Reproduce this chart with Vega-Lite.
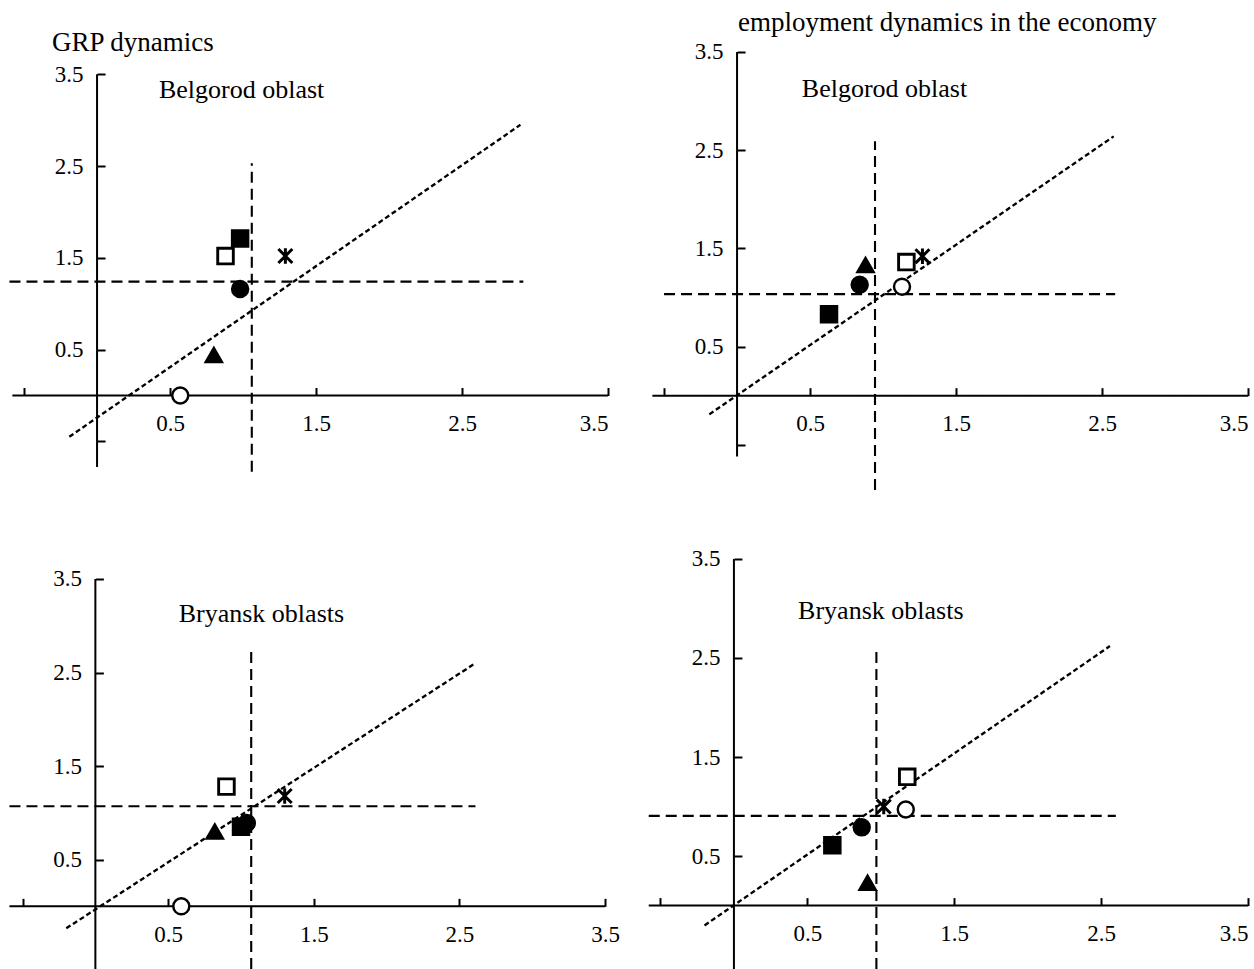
{
  "$schema": "https://vega.github.io/schema/vega-lite/v6.json",
  "autosize": {"type": "none"},
  "padding": {"left": 8, "top": 45, "right": 1246, "bottom": 924},
  "background": "white",
  "datasets": {
    "points": [
      {"panel": "p1", "series": "A", "x": 0.57, "y": 0.0},
      {"panel": "p1", "series": "B", "x": 0.98, "y": 1.16},
      {"panel": "p1", "series": "C", "x": 0.80, "y": 0.44},
      {"panel": "p1", "series": "D", "x": 0.98, "y": 1.71},
      {"panel": "p1", "series": "E", "x": 0.88, "y": 1.52},
      {"panel": "p1", "series": "F", "x": 1.29, "y": 1.52},
      {"panel": "p2", "series": "A", "x": 1.13, "y": 1.11},
      {"panel": "p2", "series": "B", "x": 0.84, "y": 1.13},
      {"panel": "p2", "series": "C", "x": 0.88, "y": 1.33},
      {"panel": "p2", "series": "D", "x": 0.63, "y": 0.83},
      {"panel": "p2", "series": "E", "x": 1.16, "y": 1.36},
      {"panel": "p2", "series": "F", "x": 1.27, "y": 1.42},
      {"panel": "p3", "series": "A", "x": 0.59, "y": 0.0},
      {"panel": "p3", "series": "B", "x": 1.04, "y": 0.89},
      {"panel": "p3", "series": "C", "x": 0.82, "y": 0.80},
      {"panel": "p3", "series": "D", "x": 1.0, "y": 0.85},
      {"panel": "p3", "series": "E", "x": 0.90, "y": 1.28},
      {"panel": "p3", "series": "F", "x": 1.30, "y": 1.18},
      {"panel": "p4", "series": "A", "x": 1.17, "y": 0.97},
      {"panel": "p4", "series": "B", "x": 0.87, "y": 0.79},
      {"panel": "p4", "series": "C", "x": 0.91, "y": 0.23},
      {"panel": "p4", "series": "D", "x": 0.67, "y": 0.61},
      {"panel": "p4", "series": "E", "x": 1.18, "y": 1.30},
      {"panel": "p4", "series": "F", "x": 1.02, "y": 1.0}
    ],
    "lines": [
      {"panel": "p1", "kind": "axis", "x": 0, "y": -0.78, "x2": 0, "y2": 3.5},
      {"panel": "p1", "kind": "axis", "x": -0.58, "y": 0, "x2": 3.5, "y2": 0},
      {"panel": "p1", "kind": "vline", "x": 1.06, "y": -0.83, "x2": 1.06, "y2": 2.53},
      {"panel": "p1", "kind": "hline", "x": -0.6, "y": 1.24, "x2": 2.92, "y2": 1.24},
      {"panel": "p1", "kind": "trend", "x": -0.19, "y": -0.45, "x2": 2.9, "y2": 2.95},
      {"panel": "p2", "kind": "axis", "x": 0, "y": -0.62, "x2": 0, "y2": 3.5},
      {"panel": "p2", "kind": "axis", "x": -0.58, "y": 0, "x2": 3.5, "y2": 0},
      {"panel": "p2", "kind": "vline", "x": 0.945, "y": -0.96, "x2": 0.945, "y2": 2.59},
      {"panel": "p2", "kind": "hline", "x": -0.5, "y": 1.035, "x2": 2.59, "y2": 1.035},
      {"panel": "p2", "kind": "trend", "x": -0.19, "y": -0.19, "x2": 2.58, "y2": 2.64},
      {"panel": "p3", "kind": "axis", "x": 0, "y": -0.67, "x2": 0, "y2": 3.5},
      {"panel": "p3", "kind": "axis", "x": -0.59, "y": 0, "x2": 3.5, "y2": 0},
      {"panel": "p3", "kind": "vline", "x": 1.07, "y": -0.67, "x2": 1.07, "y2": 2.72},
      {"panel": "p3", "kind": "hline", "x": -0.59, "y": 1.07, "x2": 2.61, "y2": 1.07},
      {"panel": "p3", "kind": "trend", "x": -0.2, "y": -0.235, "x2": 2.61, "y2": 2.6},
      {"panel": "p4", "kind": "axis", "x": 0, "y": -0.64, "x2": 0, "y2": 3.5},
      {"panel": "p4", "kind": "axis", "x": -0.58, "y": 0, "x2": 3.5, "y2": 0},
      {"panel": "p4", "kind": "vline", "x": 0.97, "y": -0.64, "x2": 0.97, "y2": 2.56},
      {"panel": "p4", "kind": "hline", "x": -0.58, "y": 0.905, "x2": 2.6, "y2": 0.905},
      {"panel": "p4", "kind": "trend", "x": -0.2, "y": -0.2, "x2": 2.56, "y2": 2.62}
    ],
    "labels": [
      {"panel": "p1", "label": "Belgorod oblast"},
      {"panel": "p2", "label": "Belgorod oblast"},
      {"panel": "p3", "label": "Bryansk oblasts"},
      {"panel": "p4", "label": "Bryansk oblasts"}
    ]
  },
  "bounds": "flush",
  "columns": 2,
  "spacing": {"row": 60, "column": 40},
  "concat": [
    {
      "width": 600, "height": 445,
      "title": {"text": "GRP dynamics", "anchor": "start", "frame": "group", "dx": 44, "dy": 33, "offset": 0, "baseline": "alphabetic"},
      "layer": [
        {"data": {"name": "lines"}, "transform": [{"filter": "datum.panel === 'p1'"}], "mark": {"type": "rule", "color": "black"},
         "encoding": {
           "x": {"field": "x", "type": "quantitative", "scale": {"domain": [-0.61, 3.5], "nice": false, "zero": false}, "axis": {"title": null, "format": ".1f", "values": [-0.5, 0.5, 1.5, 2.5, 3.5], "offset": -94.5, "labelExpr": "datum.value < 0 ? '' : datum.label"}},
           "y": {"field": "y", "type": "quantitative", "scale": {"domain": [-1.03, 3.82], "nice": false, "zero": false}, "axis": {"title": null, "format": ".1f", "values": [-0.5, 0.5, 1.5, 2.5, 3.5], "offset": -89.05, "labelExpr": "datum.value < 0 ? '' : datum.label"}},
           "x2": {"field": "x2"}, "y2": {"field": "y2"},
           "strokeDash": {"field": "kind", "type": "nominal", "scale": {"domain": ["axis", "vline", "hline", "trend"], "range": [[1, 0], [11, 6], [11, 6], [5, 3]]}, "legend": null},
           "strokeWidth": {"field": "kind", "type": "ordinal", "scale": {"domain": ["axis", "vline", "hline", "trend"], "range": [2, 3, 3, 3.3]}, "legend": null}}},
        {"data": {"name": "points"}, "transform": [{"filter": "datum.panel === 'p1'"}], "mark": {"type": "point", "filled": true, "stroke": "black", "opacity": 1},
         "encoding": {
           "x": {"field": "x", "type": "quantitative"},
           "y": {"field": "y", "type": "quantitative"},
           "shape": {"field": "series", "type": "nominal", "scale": {"domain": ["A", "B", "C", "D", "E", "F"], "range": ["circle", "circle", "triangle-up", "square", "square", "M0,-1L0,1M-0.9,-0.9L0.9,0.9M-0.9,0.9L0.9,-0.9"]}, "legend": null},
           "fill": {"field": "series", "type": "nominal", "scale": {"domain": ["A", "B", "C", "D", "E", "F"], "range": ["white", "black", "black", "black", "white", "white"]}, "legend": null},
           "strokeWidth": {"field": "series", "type": "ordinal", "scale": {"domain": ["A", "B", "C", "D", "E", "F"], "range": [2, 2, 2, 2, 2, 3.6]}, "legend": null},
           "size": {"field": "series", "type": "ordinal", "scale": {"domain": ["A", "B", "C", "D", "E", "F"], "range": [256, 240, 300, 240, 240, 340]}, "legend": null}}},
        {"data": {"name": "labels"}, "transform": [{"filter": "datum.panel === 'p1'"}], "mark": {"type": "text", "fontSize": 26, "baseline": "alphabetic", "align": "center", "color": "black"},
         "encoding": {"x": {"datum": 0.99, "type": "quantitative"}, "y": {"datum": 3.24, "type": "quantitative"}, "text": {"field": "label", "type": "nominal"}}}
      ]
    },
    {
      "width": 600, "height": 445,
      "title": {"text": "employment dynamics in the economy", "anchor": "start", "frame": "group", "dx": 90, "dy": 17, "offset": 0, "baseline": "alphabetic"},
      "layer": [
        {"data": {"name": "lines"}, "transform": [{"filter": "datum.panel === 'p2'"}], "mark": {"type": "rule", "color": "black"},
         "encoding": {
           "x": {"field": "x", "type": "quantitative", "scale": {"domain": [-0.61, 3.5], "nice": false, "zero": false}, "axis": {"title": null, "format": ".1f", "values": [-0.5, 0.5, 1.5, 2.5, 3.5], "offset": -94.3, "labelExpr": "datum.value < 0 ? '' : datum.label"}},
           "y": {"field": "y", "type": "quantitative", "scale": {"domain": [-0.96, 3.57], "nice": false, "zero": false}, "axis": {"title": null, "format": ".1f", "values": [-0.5, 0.5, 1.5, 2.5, 3.5], "offset": -89.05, "labelExpr": "datum.value < 0 ? '' : datum.label"}},
           "x2": {"field": "x2"}, "y2": {"field": "y2"},
           "strokeDash": {"field": "kind", "type": "nominal", "scale": {"domain": ["axis", "vline", "hline", "trend"], "range": [[1, 0], [11, 6], [11, 6], [5, 3]]}, "legend": null},
           "strokeWidth": {"field": "kind", "type": "ordinal", "scale": {"domain": ["axis", "vline", "hline", "trend"], "range": [2, 3, 3, 3.3]}, "legend": null}}},
        {"data": {"name": "points"}, "transform": [{"filter": "datum.panel === 'p2'"}], "mark": {"type": "point", "filled": true, "stroke": "black", "opacity": 1},
         "encoding": {
           "x": {"field": "x", "type": "quantitative"},
           "y": {"field": "y", "type": "quantitative"},
           "shape": {"field": "series", "type": "nominal", "scale": {"domain": ["A", "B", "C", "D", "E", "F"], "range": ["circle", "circle", "triangle-up", "square", "square", "M0,-1L0,1M-0.9,-0.9L0.9,0.9M-0.9,0.9L0.9,-0.9"]}, "legend": null},
           "fill": {"field": "series", "type": "nominal", "scale": {"domain": ["A", "B", "C", "D", "E", "F"], "range": ["white", "black", "black", "black", "white", "white"]}, "legend": null},
           "strokeWidth": {"field": "series", "type": "ordinal", "scale": {"domain": ["A", "B", "C", "D", "E", "F"], "range": [2, 2, 2, 2, 2, 3.6]}, "legend": null},
           "size": {"field": "series", "type": "ordinal", "scale": {"domain": ["A", "B", "C", "D", "E", "F"], "range": [256, 240, 300, 240, 240, 340]}, "legend": null}}},
        {"data": {"name": "labels"}, "transform": [{"filter": "datum.panel === 'p2'"}], "mark": {"type": "text", "fontSize": 26, "baseline": "alphabetic", "align": "center", "color": "black"},
         "encoding": {"x": {"datum": 1.01, "type": "quantitative"}, "y": {"datum": 3.04, "type": "quantitative"}, "text": {"field": "label", "type": "nominal"}}}
      ]
    },
    {
      "width": 600, "height": 419,
      "layer": [
        {"data": {"name": "lines"}, "transform": [{"filter": "datum.panel === 'p3'"}], "mark": {"type": "rule", "color": "black"},
         "encoding": {
           "x": {"field": "x", "type": "quantitative", "scale": {"domain": [-0.6, 3.52], "nice": false, "zero": false}, "axis": {"title": null, "format": ".1f", "values": [-0.5, 0.5, 1.5, 2.5, 3.5], "offset": -62.66, "labelExpr": "datum.value < 0 ? '' : datum.label"}},
           "y": {"field": "y", "type": "quantitative", "scale": {"domain": [-0.67, 3.81], "nice": false, "zero": false}, "axis": {"title": null, "format": ".1f", "values": [0.5, 1.5, 2.5, 3.5], "offset": -87.38}},
           "x2": {"field": "x2"}, "y2": {"field": "y2"},
           "strokeDash": {"field": "kind", "type": "nominal", "scale": {"domain": ["axis", "vline", "hline", "trend"], "range": [[1, 0], [11, 6], [11, 6], [5, 3]]}, "legend": null},
           "strokeWidth": {"field": "kind", "type": "ordinal", "scale": {"domain": ["axis", "vline", "hline", "trend"], "range": [2, 3, 3, 3.3]}, "legend": null}}},
        {"data": {"name": "points"}, "transform": [{"filter": "datum.panel === 'p3'"}], "mark": {"type": "point", "filled": true, "stroke": "black", "opacity": 1},
         "encoding": {
           "x": {"field": "x", "type": "quantitative"},
           "y": {"field": "y", "type": "quantitative"},
           "shape": {"field": "series", "type": "nominal", "scale": {"domain": ["A", "B", "C", "D", "E", "F"], "range": ["circle", "circle", "triangle-up", "square", "square", "M0,-1L0,1M-0.9,-0.9L0.9,0.9M-0.9,0.9L0.9,-0.9"]}, "legend": null},
           "fill": {"field": "series", "type": "nominal", "scale": {"domain": ["A", "B", "C", "D", "E", "F"], "range": ["white", "black", "black", "black", "white", "white"]}, "legend": null},
           "strokeWidth": {"field": "series", "type": "ordinal", "scale": {"domain": ["A", "B", "C", "D", "E", "F"], "range": [2, 2, 2, 2, 2, 3.6]}, "legend": null},
           "size": {"field": "series", "type": "ordinal", "scale": {"domain": ["A", "B", "C", "D", "E", "F"], "range": [256, 240, 300, 240, 240, 340]}, "legend": null}}},
        {"data": {"name": "labels"}, "transform": [{"filter": "datum.panel === 'p3'"}], "mark": {"type": "text", "fontSize": 26, "baseline": "alphabetic", "align": "center", "color": "black"},
         "encoding": {"x": {"datum": 1.14, "type": "quantitative"}, "y": {"datum": 3.04, "type": "quantitative"}, "text": {"field": "label", "type": "nominal"}}}
      ]
    },
    {
      "width": 600, "height": 419,
      "layer": [
        {"data": {"name": "lines"}, "transform": [{"filter": "datum.panel === 'p4'"}], "mark": {"type": "rule", "color": "black"},
         "encoding": {
           "x": {"field": "x", "type": "quantitative", "scale": {"domain": [-0.585, 3.5], "nice": false, "zero": false}, "axis": {"title": null, "format": ".1f", "values": [-0.5, 0.5, 1.5, 2.5, 3.5], "offset": -63.39, "labelExpr": "datum.value < 0 ? '' : datum.label"}},
           "y": {"field": "y", "type": "quantitative", "scale": {"domain": [-0.64, 3.59], "nice": false, "zero": false}, "axis": {"title": null, "format": ".1f", "values": [0.5, 1.5, 2.5, 3.5], "offset": -85.92}},
           "x2": {"field": "x2"}, "y2": {"field": "y2"},
           "strokeDash": {"field": "kind", "type": "nominal", "scale": {"domain": ["axis", "vline", "hline", "trend"], "range": [[1, 0], [11, 6], [11, 6], [5, 3]]}, "legend": null},
           "strokeWidth": {"field": "kind", "type": "ordinal", "scale": {"domain": ["axis", "vline", "hline", "trend"], "range": [2, 3, 3, 3.3]}, "legend": null}}},
        {"data": {"name": "points"}, "transform": [{"filter": "datum.panel === 'p4'"}], "mark": {"type": "point", "filled": true, "stroke": "black", "opacity": 1},
         "encoding": {
           "x": {"field": "x", "type": "quantitative"},
           "y": {"field": "y", "type": "quantitative"},
           "shape": {"field": "series", "type": "nominal", "scale": {"domain": ["A", "B", "C", "D", "E", "F"], "range": ["circle", "circle", "triangle-up", "square", "square", "M0,-1L0,1M-0.9,-0.9L0.9,0.9M-0.9,0.9L0.9,-0.9"]}, "legend": null},
           "fill": {"field": "series", "type": "nominal", "scale": {"domain": ["A", "B", "C", "D", "E", "F"], "range": ["white", "black", "black", "black", "white", "white"]}, "legend": null},
           "strokeWidth": {"field": "series", "type": "ordinal", "scale": {"domain": ["A", "B", "C", "D", "E", "F"], "range": [2, 2, 2, 2, 2, 3.6]}, "legend": null},
           "size": {"field": "series", "type": "ordinal", "scale": {"domain": ["A", "B", "C", "D", "E", "F"], "range": [256, 240, 300, 240, 240, 340]}, "legend": null}}},
        {"data": {"name": "labels"}, "transform": [{"filter": "datum.panel === 'p4'"}], "mark": {"type": "text", "fontSize": 26, "baseline": "alphabetic", "align": "center", "color": "black"},
         "encoding": {"x": {"datum": 1.0, "type": "quantitative"}, "y": {"datum": 2.89, "type": "quantitative"}, "text": {"field": "label", "type": "nominal"}}}
      ]
    }
  ],
  "config": {
    "view": {"stroke": null},
    "font": "Liberation Serif",
    "axis": {"domain": false, "grid": false, "ticks": true, "tickColor": "black", "tickWidth": 2, "tickSize": -8, "labelFontSize": 23, "labelColor": "black", "labelFont": "Liberation Serif", "labelOverlap": false},
    "axisX": {"labelPadding": 25},
    "axisY": {"labelPadding": 22},
    "title": {"font": "Liberation Serif", "fontSize": 27, "fontWeight": "normal", "color": "black"},
    "text": {"font": "Liberation Serif"}
  }
}
